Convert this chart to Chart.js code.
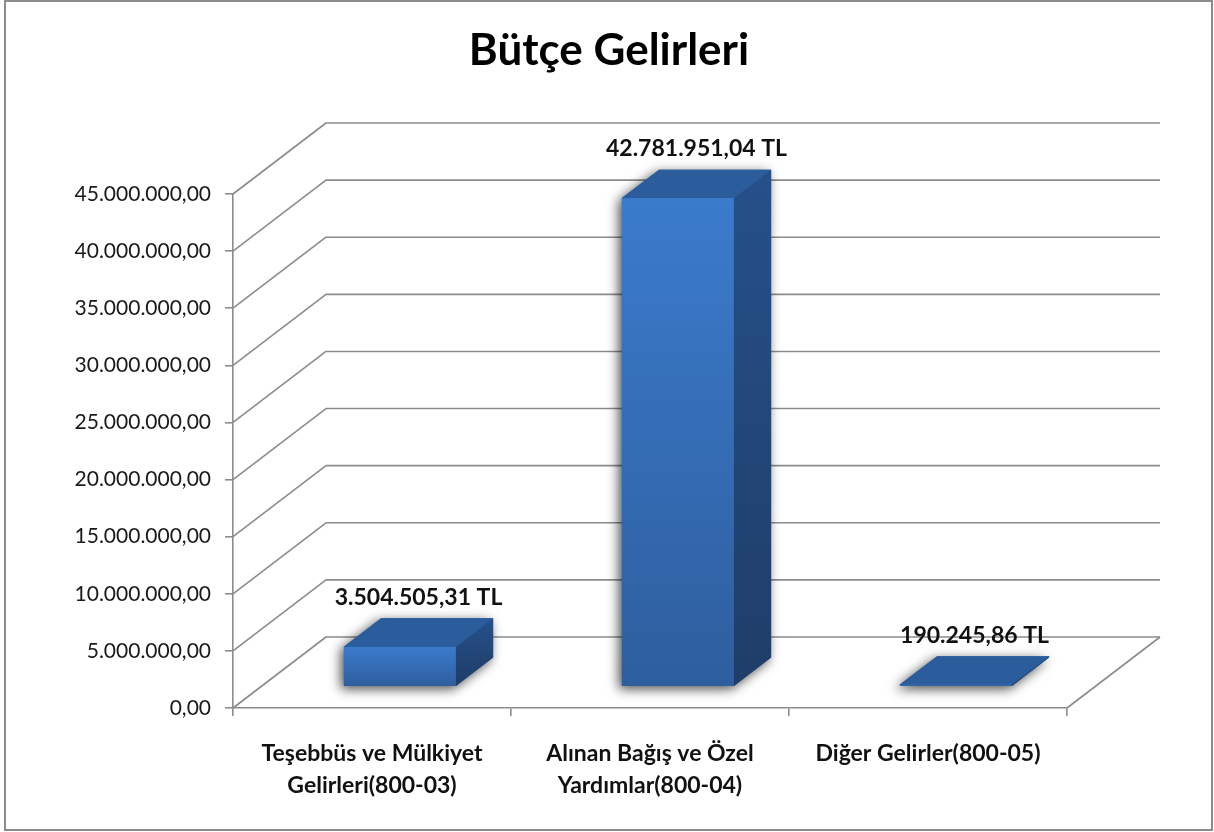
<!DOCTYPE html>
<html>
<head>
<meta charset="utf-8">
<style>
  html, body { margin: 0; padding: 0; background: #fff; }
  canvas { display: block; }
</style>
</head>
<body>
<canvas id="chart" width="1214" height="832"></canvas>

<script src="https://cdn.jsdelivr.net/npm/chart.js"></script>

<script>
  const title = 'Bütçe Gelirleri';
  const categories = [
    ['Teşebbüs ve Mülkiyet', 'Gelirleri(800-03)'],
    ['Alınan Bağış ve Özel', 'Yardımlar(800-04)'],
    'Diğer Gelirler(800-05)',
  ];
  const values = [3504505.31, 42781951.04, 190245.86];
  const yMax = 45000000;
  const yStep = 5000000;
  const unit = 'TL';

  // tr-TR style: 45.000.000,00
  const fmt = (v) => {
    const [int, dec] = v.toFixed(2).split('.');
    return int.replace(/\B(?=(\d{3})+(?!\d))/g, '.') + ',' + dec;
  };

  const DEPTH_X = 93, DEPTH_Y = -71; // depth of the 3D floor
  const BAR_Z = 0.3, BAR_D = 0.4;    // where the bar sits in that depth, and how thick it is
  const GRID = '#8c8c8c';
  const FONT = 'Lato';

  const frame = {
    id: 'frame',
    beforeDraw(chart) {
      const { ctx, width } = chart;
      ctx.save();
      ctx.fillStyle = '#fff';
      ctx.fillRect(0, 0, width, chart.height);
      ctx.strokeStyle = GRID;
      ctx.lineWidth = 2;
      ctx.strokeRect(5, 1, width - 7, chart.height - 3);
      ctx.fillStyle = '#000';
      ctx.font = `bold 44px ${FONT}`;
      ctx.textAlign = 'center';
      ctx.textBaseline = 'middle';
      ctx.fillText(title, width / 2 + 2, 51);
      ctx.restore();
    },
  };

  const walls = {
    id: 'walls',
    beforeDatasetsDraw(chart) {
      const { ctx, chartArea: a, scales: { y } } = chart;
      ctx.save();
      ctx.strokeStyle = GRID;
      ctx.lineWidth = 1.6;
      ctx.lineJoin = 'round';
      y.ticks.forEach((t) => {
        const py = y.getPixelForValue(t.value);
        ctx.beginPath();
        ctx.moveTo(a.left, py);
        ctx.lineTo(a.left + DEPTH_X, py + DEPTH_Y);
        ctx.lineTo(a.right + DEPTH_X, py + DEPTH_Y);
        ctx.stroke();
      });
      ctx.beginPath();
      ctx.moveTo(a.right, a.bottom);
      ctx.lineTo(a.right + DEPTH_X, a.bottom + DEPTH_Y);
      ctx.stroke();
      ctx.restore();
    },
  };

  const bars3d = {
    id: 'bars3d',
    afterDatasetsDraw(chart) {
      const { ctx } = chart;
      const meta = chart.getDatasetMeta(0);
      const ox = DEPTH_X * BAR_Z, oy = DEPTH_Y * BAR_Z;
      const dx = DEPTH_X * BAR_D, dy = DEPTH_Y * BAR_D;

      meta.data.forEach((bar, i) => {
        const { x, y, base, width } = bar.getProps(['x', 'y', 'base', 'width'], true);
        const l = x - width / 2 + ox, r = x + width / 2 + ox;
        const t = y + oy, b = base + oy;

        ctx.save();
        // soft shadow on the floor
        ctx.shadowColor = 'rgba(0,0,0,0.7)';
        ctx.shadowBlur = 12;
        ctx.shadowOffsetX = -3;
        ctx.shadowOffsetY = 3;
        ctx.fillStyle = '#2a5b9a';
        ctx.beginPath();
        ctx.moveTo(l, b);
        ctx.lineTo(r, b);
        ctx.lineTo(r + dx, b + dy);
        ctx.lineTo(r + dx, t + dy);
        ctx.lineTo(l + dx, t + dy);
        ctx.lineTo(l, t);
        ctx.closePath();
        ctx.fill();
        ctx.restore();

        ctx.save();
        // front
        let g = ctx.createLinearGradient(0, t, 0, b);
        g.addColorStop(0, '#3b7bcc');
        g.addColorStop(1, '#2e5e9e');
        ctx.fillStyle = g;
        ctx.fillRect(l, t, r - l, b - t);

        // side
        g = ctx.createLinearGradient(0, t + dy, 0, b);
        g.addColorStop(0, '#26508a');
        g.addColorStop(1, '#1f3d68');
        ctx.fillStyle = g;
        ctx.beginPath();
        ctx.moveTo(r, t);
        ctx.lineTo(r + dx, t + dy);
        ctx.lineTo(r + dx, b + dy);
        ctx.lineTo(r, b);
        ctx.closePath();
        ctx.fill();

        // top
        ctx.fillStyle = '#2b5c9b';
        ctx.beginPath();
        ctx.moveTo(l, t);
        ctx.lineTo(r, t);
        ctx.lineTo(r + dx, t + dy);
        ctx.lineTo(l + dx, t + dy);
        ctx.closePath();
        ctx.fill();

        // value label
        ctx.fillStyle = '#111';
        ctx.font = `bold 23px ${FONT}`;
        ctx.textAlign = 'center';
        ctx.textBaseline = 'middle';
        ctx.fillText(`${fmt(values[i])} ${unit}`, (l + r) / 2 + dx / 2, t + dy - 21);
        ctx.restore();
      });
    },
  };

  const chart = new Chart(document.getElementById('chart'), {
    type: 'bar',
    data: {
      labels: categories,
      datasets: [{
        data: values,
        backgroundColor: 'rgba(0,0,0,0)',
        borderWidth: 0,
        barPercentage: 0.403,
        categoryPercentage: 1,
      }],
    },
    options: {
      responsive: false,
      animation: false,
      events: [],
      devicePixelRatio: 1,
      layout: { padding: { top: 194, right: 147, left: 0, bottom: 0 } },
      plugins: {
        legend: { display: false },
        tooltip: { enabled: false },
        title: { display: false },
      },
      scales: {
        y: {
          min: 0,
          max: yMax,
          afterFit: (s) => { s.width = 233; },
          ticks: {
            stepSize: yStep,
            callback: (v) => fmt(v),
            font: { family: FONT, size: 21 },
            color: '#1a1a1a',
            padding: 14,
          },
          grid: { drawOnChartArea: false, tickLength: 8, color: GRID, lineWidth: 1.6 },
          border: { display: true, color: GRID, width: 1.6 },
        },
        x: {
          afterFit: (s) => { s.height = 124; },
          ticks: {
            font: { family: FONT, size: 23, weight: 'bold', lineHeight: 1.4 },
            color: '#111',
            padding: 21,
            maxRotation: 0,
            autoSkip: false,
          },
          grid: { offset: true, drawOnChartArea: false, tickLength: 8, color: GRID, lineWidth: 1.6 },
          border: { display: true, color: GRID, width: 1.6 },
        },
      },
    },
    plugins: [frame, walls, bars3d],
  });
</script>
</body>
</html>
